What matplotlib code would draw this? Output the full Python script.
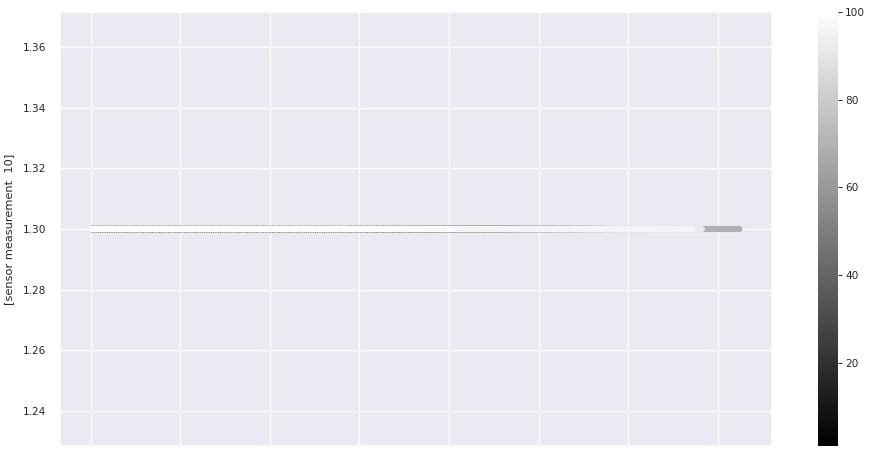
import numpy as np
import pandas as pd
import seaborn as sns
from matplotlib import pyplot as plt

# lifetimes (in cycles) of the 100 engine units, read/estimated from the plot
unit_life = [192, 287, 179, 189, 269, 188, 259, 150, 201, 222,
             240, 170, 163, 180, 207, 209, 276, 195, 158, 234,
             195, 202, 168, 147, 230, 199, 156, 165, 163, 194,
             234, 191, 200, 195, 181, 158, 170, 194, 128, 188,
             216, 196, 207, 192, 158, 256, 214, 231, 215, 198,
             213, 213, 195, 257, 193, 275, 137, 147, 231, 172,
             185, 180, 174, 283, 153, 202, 313, 199, 362, 137,
             208, 213, 213, 166, 229, 210, 154, 231, 199, 185,
             240, 214, 293, 267, 188, 278, 178, 213, 217, 154,
             135, 341, 155, 258, 283, 336, 202, 156, 185, 200]
sensor_10 = 1.3   # sensor measurement 10 stays constant over the whole run

y_ticks = [1.24, 1.26, 1.28, 1.30, 1.32, 1.34, 1.36]
x_ticks = [0, 50, 100, 150, 200, 250, 300, 350]
cbar_ticks = [20, 40, 60, 80, 100]

units, cycles = [], []
for u, life in enumerate(unit_life, start=1):
    units += [u] * life
    cycles += list(range(1, life + 1))
df = pd.DataFrame({'unit': units, 'time': cycles})
df['sensor measurement  10'] = sensor_10

sns.set_theme(style='darkgrid')
plt.rcParams['font.family'] = ['DejaVu Sans']
plt.rcParams['grid.linewidth'] = 0.8

fig = plt.figure(figsize=(8.76, 4.53), dpi=100)
ax = fig.add_axes([0.0685, 0.0155, 0.8125, 0.958])
cax = fig.add_axes([0.934, 0.0155, 0.023, 0.958])

sc = ax.scatter(df['time'], df['sensor measurement  10'], c=df['unit'],
                cmap='gray', s=12, linewidths=1.0, edgecolors='face')
ax.set_xticks(x_ticks)
ax.set_xticklabels([])
ax.set_yticks(y_ticks)
ax.set_yticklabels(['%.2f' % v for v in y_ticks])
ax.tick_params(labelsize=7.6, pad=4)
ax.set_ylabel('[sensor measurement  10]', fontsize=8.2, labelpad=6)

cb = fig.colorbar(sc, cax=cax, ticks=cbar_ticks)
cb.outline.set_visible(False)
cax.tick_params(labelsize=7.6, length=3, width=0.8, color='#333333', pad=2)

fig.savefig('out.png', dpi=100)
